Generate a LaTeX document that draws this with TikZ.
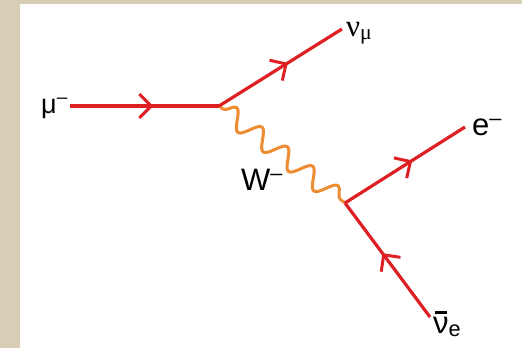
\documentclass[tikz,border=0pt]{standalone}
\usepackage{fontspec}
\setmainfont{Liberation Sans}
\newfontfamily\serifgr{Liberation Serif}
\usetikzlibrary{decorations.pathmorphing,decorations.markings,arrows.meta}
\definecolor{fred}{RGB}{222,32,36}
\definecolor{worange}{RGB}{238,140,52}
\definecolor{beige}{RGB}{216,206,182}
\newcommand{\nubar}{\ooalign{ν\cr\hidewidth\raisebox{0.62em}{\rule{0.38em}{0.09em}}\hidewidth\cr}}
\begin{document}
\begin{tikzpicture}[x=1pt,y=-1pt,
  fermion/.style={draw=fred, line width=3.2pt, postaction={decorate},
    decoration={markings, mark=at position 0.56 with {\arrow[fred,line width=3pt]{Straight Barb[length=12pt,width=24pt]}}}},
  boson/.style={draw=worange, line width=3pt, decorate,
    decoration={snake, segment length=32pt, amplitude=9.5pt, pre length=5pt, post length=3pt}},
  lbl/.style={inner sep=0pt, font=\fontsize{31}{36}\selectfont}]
\useasboundingbox (0,0) rectangle (522,348);
\fill[beige] (0,0) rectangle (522,348);
\fill[white] (20,4) rectangle (522,348);
\coordinate (a) at (70,106);
\coordinate (v1) at (219,106);
\coordinate (b) at (342,29);
\coordinate (v2) at (345,203);
\coordinate (c) at (465,127);
\coordinate (d) at (430,317);
\draw[boson] (v1) -- (v2);
\draw[fermion] (a) -- (v1);
\draw[fermion] (v1) -- (b);
\draw[fermion] (v2) -- (c);
\draw[fermion] (d) -- (v2);
\node[lbl, anchor=base west, font=\fontsize{27}{30}\selectfont] (mu) at (41,113) {μ\textsuperscript{–}};
\node[lbl, anchor=base west] (numu) at (346,36) {{\serifgr ν}\textsubscript{\serifgr μ}};
\node[lbl, anchor=base west] (W) at (241,190) {W\textsuperscript{–}};
\node[lbl, anchor=base west] (e) at (472,135) {e\textsuperscript{–}};
\node[lbl, anchor=base west] (nue) at (433,333) {\nubar\textsubscript{e}};
\end{tikzpicture}
\end{document}
